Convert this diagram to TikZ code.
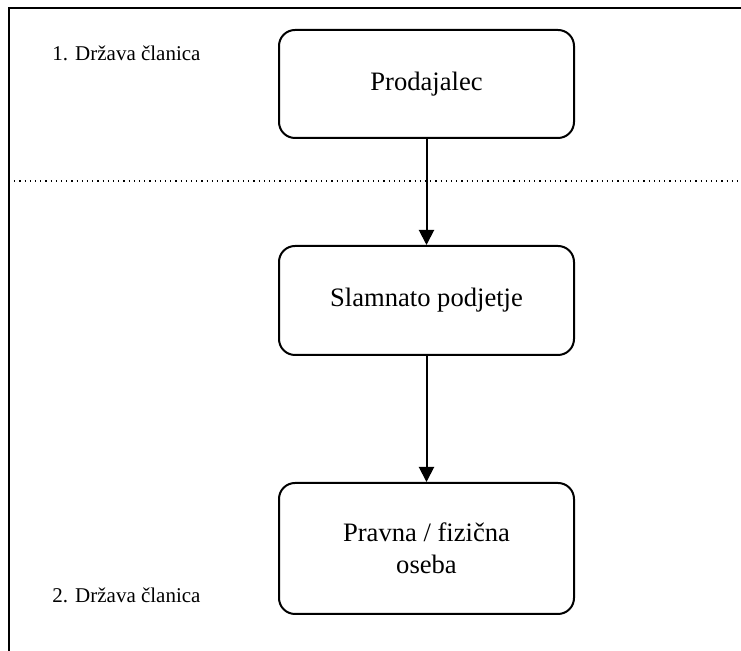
\documentclass[tikz,border=0pt]{standalone}
\usepackage{fontspec}
\setmainfont{Liberation Serif}
\usetikzlibrary{arrows.meta}
\begin{document}
\begin{tikzpicture}[x=0.5pt,y=-0.5pt,
        box/.style={draw,line width=1pt,rounded corners=8pt,align=center,
            minimum width=147.5pt,font=\fontsize{13.3}{15.8}\selectfont},
        label/.style={font=\fontsize{10.5}{12.6}\selectfont},
        arr/.style={-{Triangle[width=7.5pt,length=7.5pt]},line width=1pt}]
        \useasboundingbox (0,0) rectangle (741,651);
        \draw[line width=1pt] (9,651) -- (9,8) -- (741,8);
        \draw[dotted,line width=0.6pt] (9,181) -- (741,181);
        \node[label] (state1) at (126.5,53) {1. Država članica};
        \node[label] (state2) at (126.5,595) {2. Država članica};
        \node[box,minimum height=54pt] (seller) at (426.5,84) {Prodajalec};
        \node[box,minimum height=54.5pt] (straw) at (426.5,300.5) {Slamnato podjetje};
        \node[box,minimum height=65.5pt] (person) at (426.5,548.5) {Pravna / fizična\\oseba};
        \draw[arr] (seller) -- (straw);
        \draw[arr] (straw) -- (person);
    \end{tikzpicture}
\end{document}
